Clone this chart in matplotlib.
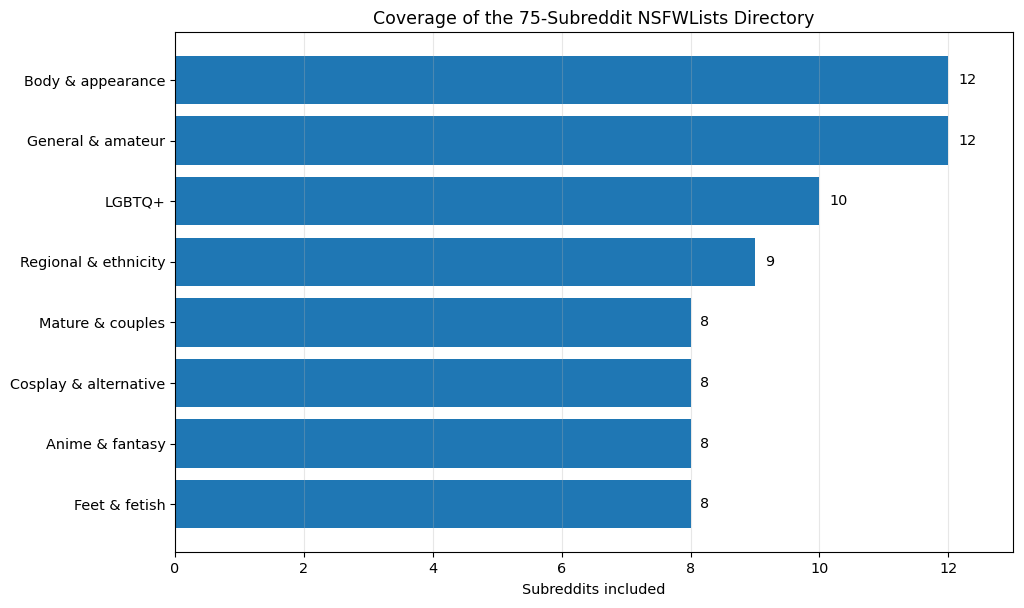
import matplotlib
matplotlib.use("Agg")
import matplotlib.pyplot as plt

categories = [
    "Body & appearance",
    "General & amateur",
    "LGBTQ+",
    "Regional & ethnicity",
    "Mature & couples",
    "Cosplay & alternative",
    "Anime & fantasy",
    "Feet & fetish",
]
counts = [12, 12, 10, 9, 8, 8, 8, 8]

plt.rcParams["font.size"] = 10.4

fig, ax = plt.subplots(figsize=(10.24, 6.08), dpi=100)
fig.subplots_adjust(left=0.171, right=0.989, top=0.947, bottom=0.092)

y = list(range(len(categories)))[::-1]
ax.barh(y, counts, color="#1f77b4")
ax.set_yticks(y)
ax.set_yticklabels(categories)

for yi, c in zip(y, counts):
    ax.text(c + 0.15, yi, str(c), va="center", ha="left", fontsize=10.4)

ax.set_xlim(0, 13)
ax.set_xlabel("Subreddits included", labelpad=5)
ax.set_title("Coverage of the 75-Subreddit NSFWLists Directory", fontsize=12.5)
ax.grid(axis="x", alpha=0.3)

plt.savefig("out.png")
